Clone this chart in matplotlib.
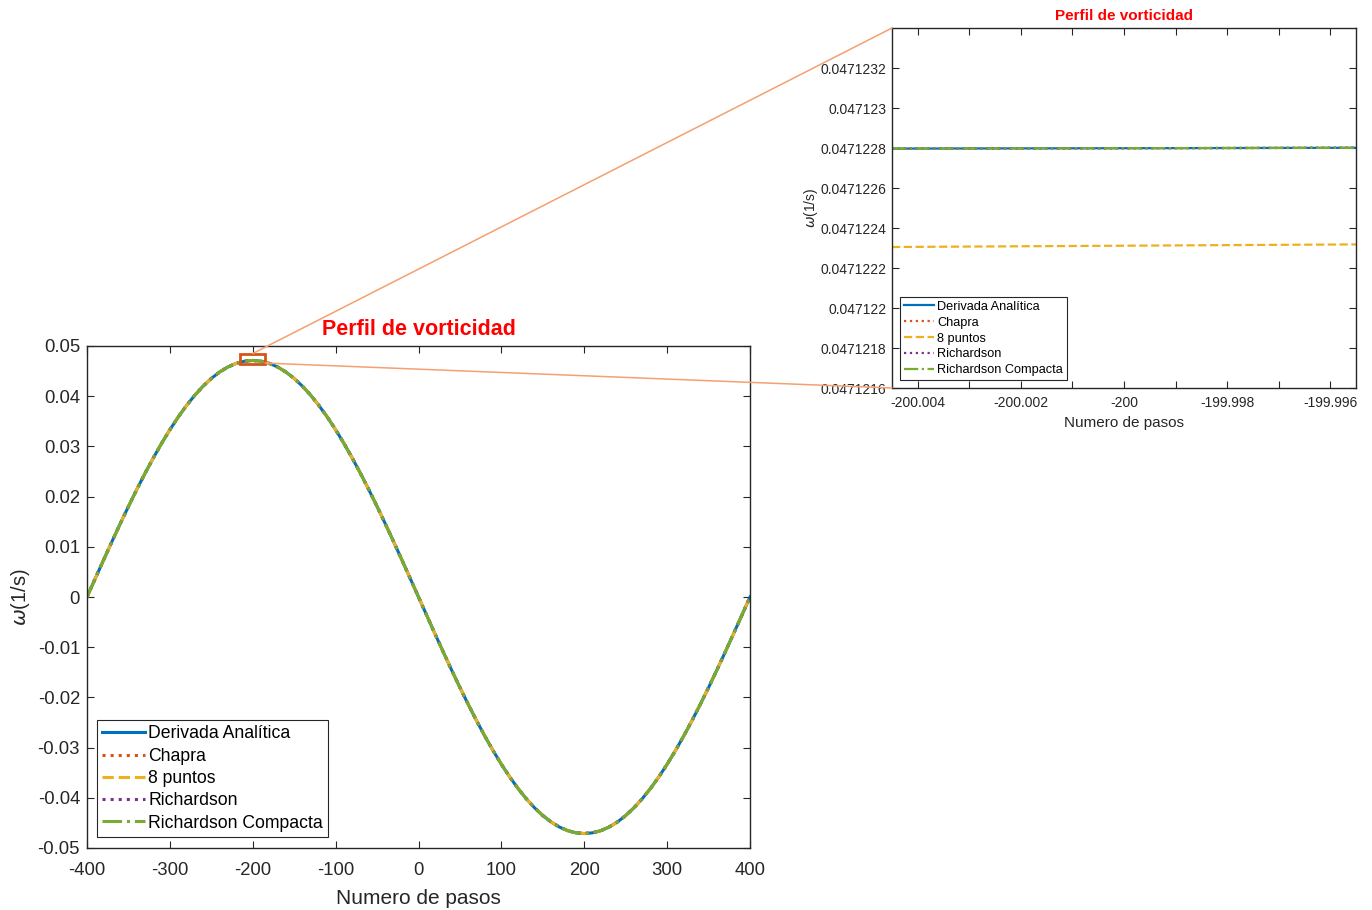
import matplotlib
matplotlib.use("Agg")
import matplotlib.pyplot as plt
from matplotlib.patches import Rectangle, ConnectionPatch
from matplotlib.ticker import MultipleLocator, FuncFormatter

plt.rcParams['font.family'] = ['Liberation Sans', 'DejaVu Sans']
plt.rcParams['axes.unicode_minus'] = False
plt.rcParams['mathtext.fontset'] = 'dejavusans'

# ---- data -------------------------------------------------------------
pasos = list(range(-400, 401, 10))
vorticidad = [
    0.0, 0.003697, 0.007372, 0.011001, 0.014562, 0.018033, 0.021393,
    0.024622, 0.027698, 0.030604, 0.033321, 0.035833, 0.038123, 0.040179,
    0.041987, 0.043536, 0.044817, 0.045821, 0.046543, 0.046978, 0.047123,
    0.046978, 0.046543, 0.045821, 0.044817, 0.043536, 0.041987, 0.040179,
    0.038123, 0.035833, 0.033321, 0.030604, 0.027698, 0.024622, 0.021393,
    0.018033, 0.014562, 0.011001, 0.007372, 0.003697, 0.0,
    -0.003697, -0.007372, -0.011001, -0.014562, -0.018033, -0.021393,
    -0.024622, -0.027698, -0.030604, -0.033321, -0.035833, -0.038123,
    -0.040179, -0.041987, -0.043536, -0.044817, -0.045821, -0.046543,
    -0.046978, -0.047123,
    -0.046978, -0.046543, -0.045821, -0.044817, -0.043536, -0.041987,
    -0.040179, -0.038123, -0.035833, -0.033321, -0.030604, -0.027698,
    -0.024622, -0.021393, -0.018033, -0.014562, -0.011001, -0.007372,
    -0.003697, 0.0]

# values around the maximum (x = -200)
pasos_zoom = [-200.0045, -199.9955]
analitica_zoom = [0.047122797, 0.047122801]
chapra_zoom = [0.047122797, 0.047122801]
ocho_puntos_zoom = [0.047122305, 0.047122318]
richardson_zoom = [0.047122797, 0.047122801]
richardson_comp_zoom = [0.047122797, 0.047122801]

metodos = ['Derivada Analítica', 'Chapra', '8 puntos', 'Richardson',
           'Richardson Compacta']
colores = ['#0072BD', '#D95319', '#EDB120', '#7E2F8E', '#77AC30']
estilos = ['-', ':', '--', ':', '-.']

# ---- figure -----------------------------------------------------------
fig = plt.figure(figsize=(13.72, 9.10), dpi=100)
fig.patch.set_facecolor('white')

ax = fig.add_axes([87 / 1372, 62 / 910, 663 / 1372, 502 / 910])
axz = fig.add_axes([892 / 1372, 522 / 910, 464 / 1372, 360 / 910])

spine_col = '#262626'


def style_axes(a, fs, xpad, ypad):
    for s in a.spines.values():
        s.set_color(spine_col)
        s.set_linewidth(1.0)
    a.tick_params(direction='in', top=True, right=True, length=5,
                  width=0.8, colors=spine_col, labelsize=fs, which='both')
    a.tick_params(axis='x', pad=xpad, which='both')
    a.tick_params(axis='y', pad=ypad, which='both')


# main plot: every method follows the same curve at this scale
for nombre, c, ls in zip(metodos, colores, estilos):
    ax.plot(pasos, vorticidad, color=c, linestyle=ls, linewidth=2.2,
            label=nombre)

ax.set_xlim(-400, 400)
ax.set_ylim(-0.05, 0.05)
ax.xaxis.set_major_locator(MultipleLocator(100))
ax.yaxis.set_major_locator(MultipleLocator(0.01))
ax.yaxis.set_major_formatter(FuncFormatter(lambda v, p: '0' if abs(v) < 1e-12 else f'{v:.2f}'))
style_axes(ax, 13.3, 10, 5)
ax.set_xlabel('Numero de pasos', fontsize=15, color=spine_col, labelpad=7)
ax.set_ylabel(r'$\omega$(1/s)', fontsize=14.5, color=spine_col, labelpad=4)
ax.set_title('Perfil de vorticidad', color='#FF0000', fontsize=15.5,
             fontweight='bold', pad=8)
leg = ax.legend(loc='lower left', bbox_to_anchor=(0.015, 0.022),
                borderaxespad=0, fontsize=12.7, handlelength=2.4,
                handletextpad=0.2, labelspacing=0.3, borderpad=0.3,
                fancybox=False, framealpha=1, edgecolor=spine_col)
leg.get_frame().set_linewidth(0.8)

# zoom box around the maximum
ax.add_patch(Rectangle((-215, 0.0465), 30, 0.002, fill=False,
                       edgecolor='#D95319', linewidth=2, zorder=5))

# inset
series_zoom = [analitica_zoom, chapra_zoom, ocho_puntos_zoom,
               richardson_zoom, richardson_comp_zoom]
for nombre, c, ls, ys in zip(metodos, colores, estilos, series_zoom):
    axz.plot(pasos_zoom, ys, color=c, linestyle=ls, linewidth=1.6,
             label=nombre)

axz.set_xlim(-200.0045, -199.9955)
axz.set_ylim(0.0471216, 0.0471234)
axz.set_xticks([-200.004, -200.002, -200.0, -199.998, -199.996])
axz.set_xticks([-200.003, -200.001, -199.999, -199.997], minor=True)
axz.xaxis.set_major_formatter(FuncFormatter(lambda v, p: f'{v:.3f}'.rstrip('0').rstrip('.')))
axz.set_yticks([0.0471216 + 0.0000002 * k for k in range(9)])
axz.yaxis.set_major_formatter(FuncFormatter(lambda v, p: f'{v:.7f}'.rstrip('0')))
style_axes(axz, 10, 6, 4)
axz.set_xlabel('Numero de pasos', fontsize=11, color=spine_col, labelpad=4)
axz.set_ylabel(r'$\omega$(1/s)', fontsize=10, color=spine_col)
axz.yaxis.set_label_coords(-0.155, 0.5)
axz.set_title('Perfil de vorticidad', color='#FF0000', fontsize=11,
              fontweight='bold', pad=6)
legz = axz.legend(loc='lower left', bbox_to_anchor=(0.017, 0.022),
                  borderaxespad=0, fontsize=9.2, handlelength=2.4,
                  handletextpad=0.2, labelspacing=0.3, borderpad=0.3,
                  fancybox=False, framealpha=1, edgecolor=spine_col)
legz.get_frame().set_linewidth(0.8)

# connector lines from zoom box to inset
for xy_a, xy_b in [((-200, 0.0485), (0, 1)), ((-185, 0.0466), (0, 0))]:
    con = ConnectionPatch(xyA=xy_a, coordsA=ax.transData,
                          xyB=xy_b, coordsB=axz.transAxes,
                          color='#F4A070', linewidth=1.1)
    fig.add_artist(con)

fig.savefig('out.png', dpi=100, facecolor='white')
